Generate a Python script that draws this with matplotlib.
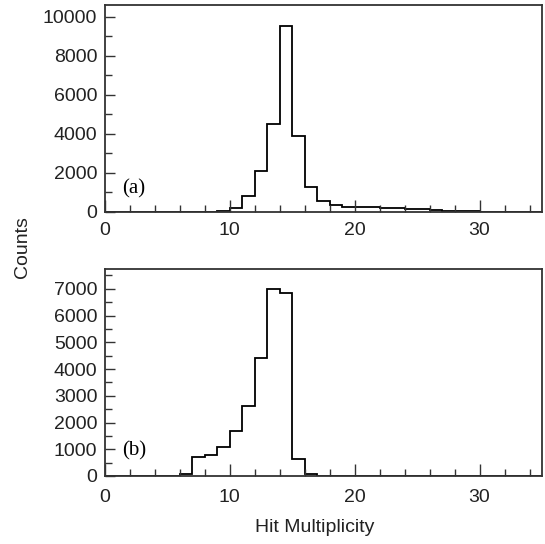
import numpy as np
import matplotlib.pyplot as plt
from matplotlib.ticker import MultipleLocator

plt.rcParams['font.family'] = ['Liberation Sans', 'DejaVu Sans']

# bin edges 0..35, width 1
edges = np.arange(0, 36)
counts_a = [0, 0, 0, 0, 0, 0, 0, 0, 10, 50, 220, 820, 2100, 4530, 9520, 3880,
            1300, 550, 360, 260, 250, 240, 220, 200, 170, 140, 110, 70, 50, 35,
            20, 10, 5, 0, 0]
counts_b = [0, 0, 0, 0, 0, 0, 90, 710, 775, 1090, 1675, 2625, 4400, 6975, 6850,
            625, 75, 10, 0, 0, 0, 0, 0, 0, 0, 0, 0, 0, 0, 0, 0, 0, 0, 0, 0]

fig = plt.figure(figsize=(5.45, 5.44), dpi=100)
ax_a = fig.add_axes([105/545, 1-212/544, 437/545, 207/544])
ax_b = fig.add_axes([105/545, 1-476/544, 437/545, 207/544])

for ax, counts, ytop, ymaj, ymin, tag, ty, xpad in [
        (ax_a, counts_a, 10600, 2000, 1000, "(a)", 0.088, 7.5),
        (ax_b, counts_b, 7740, 1000, 500, "(b)", 0.097, 9.5)]:
    ax.stairs(counts, edges, color='black', linewidth=1.3)
    ax.set_xlim(0, 35)
    ax.set_ylim(0, ytop)
    ax.xaxis.set_major_locator(MultipleLocator(10))
    ax.xaxis.set_minor_locator(MultipleLocator(2))
    ax.yaxis.set_major_locator(MultipleLocator(ymaj))
    ax.yaxis.set_minor_locator(MultipleLocator(ymin))
    ax.tick_params(which='both', direction='in', top=False, right=False,
                   labelsize=14, color='#333333', labelcolor='#222222')
    ax.tick_params(which='major', length=9, width=1)
    ax.tick_params(which='minor', length=5, width=1)
    ax.tick_params(axis='y', which='major', length=7, pad=5.5)
    ax.tick_params(axis='x', which='major', pad=xpad)
    for s in ax.spines.values():
        s.set_linewidth(1.3)
        s.set_color('#333333')
    ax.text(0.039, ty, tag, transform=ax.transAxes, fontsize=15,
            family=['Liberation Serif', 'DejaVu Serif'], va='baseline')

fig.text(23/545, 1-247/544, "Counts", rotation=90, fontsize=14,
         ha='center', va='center', color='#222222')
fig.text(315/545, 1-532/544, "Hit Multiplicity", fontsize=14,
         ha='center', va='baseline', color='#222222')

fig.savefig("out.png", dpi=100)
